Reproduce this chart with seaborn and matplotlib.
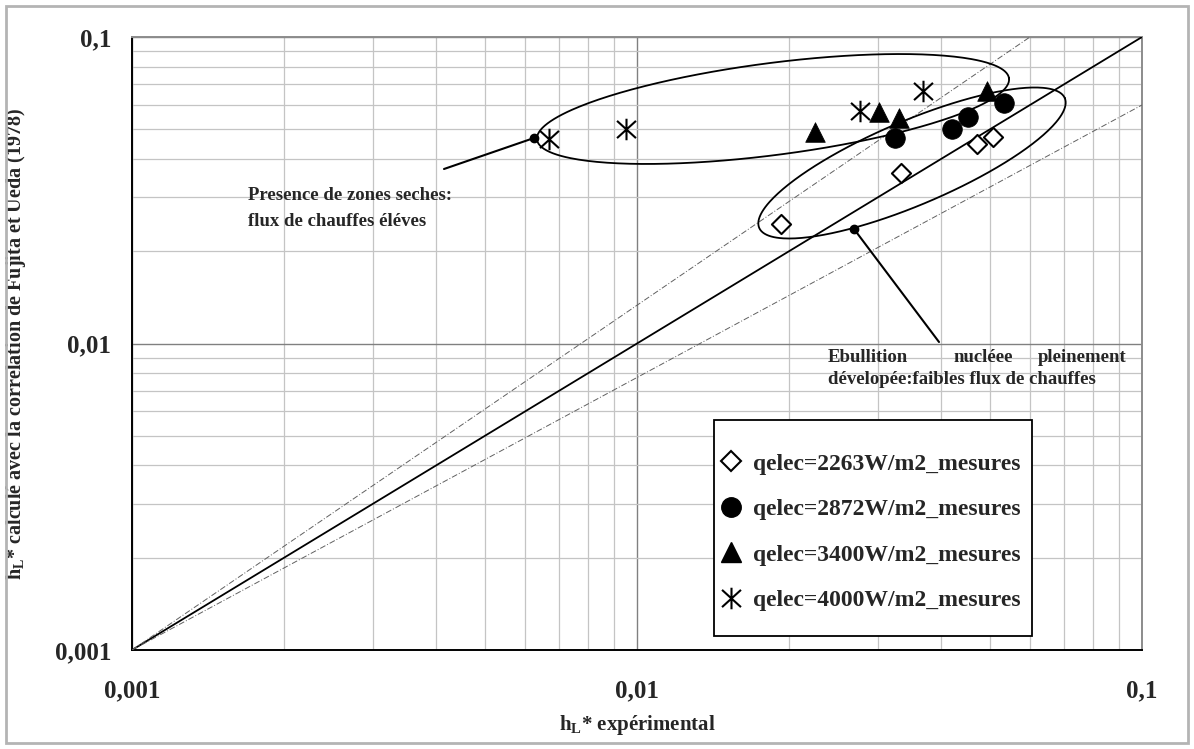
import numpy as np
import seaborn as sns
import matplotlib.pyplot as plt
from matplotlib.path import Path
from matplotlib.lines import Line2D
from matplotlib.patches import Rectangle
import matplotlib.ticker as mticker

x_2263 = [0.0193, 0.0333, 0.0471, 0.0507]
y_2263 = [0.0246, 0.0360, 0.0447, 0.0472]
x_2872 = [0.0324, 0.0421, 0.0452, 0.0532]
y_2872 = [0.0468, 0.0500, 0.0550, 0.0610]
x_3400 = [0.0225, 0.0302, 0.0330, 0.0494]
y_3400 = [0.0488, 0.0569, 0.0545, 0.0666]
x_4000 = [0.0067, 0.0095, 0.0276, 0.0369]
y_4000 = [0.0464, 0.0502, 0.0573, 0.0669]
labels = ["qelec=2263W/m2_mesures", "qelec=2872W/m2_mesures",
          "qelec=3400W/m2_mesures", "qelec=4000W/m2_mesures"]

# droites de reference
ref_x = [0.001, 0.1]
ref_y = [0.001, 0.1]
low_x = [0.001, 0.1]
low_y = [0.001, 0.06]
up_x = [0.001, 0.06]
up_y = [0.001, 0.1]

ticks = [0.001, 0.01, 0.1]
tick_labels = ["0,001", "0,01", "0,1"]

sns.set_style("white")
plt.rcParams['font.family'] = ['Liberation Serif', 'DejaVu Serif']
plt.rcParams['font.weight'] = 'bold'
plt.rcParams['mathtext.fontset'] = 'custom'
plt.rcParams['mathtext.rm'] = 'Liberation Serif:bold'
plt.rcParams['mathtext.bf'] = 'Liberation Serif:bold'

fig = plt.figure(figsize=(11.94, 7.49), dpi=100)
ax = fig.add_axes([132/1194, 99/749, 1010/1194, 613/749])

# cadre exterieur
fig.patches.append(Rectangle((6/1194, 6/749), 1182/1194, 737/749, transform=fig.transFigure,
                             fill=False, edgecolor='#b4b4b4', lw=2))

ax.set_xscale('log')
ax.set_yscale('log')
ax.set_xlim(0.001, 0.1)
ax.set_ylim(0.001, 0.1)

ax.xaxis.set_minor_locator(mticker.LogLocator(base=10, subs=np.arange(2, 10)))
ax.yaxis.set_minor_locator(mticker.LogLocator(base=10, subs=np.arange(2, 10)))
ax.grid(which='minor', color='#c4c4c4', lw=0.9)
ax.grid(which='major', color='#808080', lw=1.0)
ax.set_axisbelow(True)

ax.set_xticks(ticks)
ax.set_xticklabels(tick_labels)
ax.set_yticks(ticks)
ax.set_yticklabels(tick_labels)
ax.xaxis.set_minor_formatter(mticker.NullFormatter())
ax.yaxis.set_minor_formatter(mticker.NullFormatter())
ax.tick_params(which='major', direction='out', length=6, width=1.2, color='black', labelsize=18)
ax.tick_params(axis='x', pad=15)
ax.tick_params(axis='y', pad=9)
ax.tick_params(which='minor', length=0)

for s in ['left', 'bottom']:
    ax.spines[s].set_color('black')
    ax.spines[s].set_linewidth(1.4)
for s in ['top', 'right']:
    ax.spines[s].set_color('#8c8c8c')
    ax.spines[s].set_linewidth(1.4)

# droites
ax.plot(ref_x, ref_y, color='black', lw=1.3, zorder=3)
ax.plot(low_x, low_y, color='#606060', lw=0.7, ls=(0, (6, 2, 1, 2)), zorder=3)
ax.plot(up_x, up_y, color='#606060', lw=0.7, ls=(0, (6, 2, 1, 2)), zorder=3)

star = Path([(0, -1), (0, 1), (-0.88, -0.8), (0.88, 0.8), (-0.88, 0.8), (0.88, -0.8)],
            [Path.MOVETO, Path.LINETO, Path.MOVETO, Path.LINETO, Path.MOVETO, Path.LINETO])

sns.scatterplot(x=x_2263, y=y_2263, marker='D', s=95, facecolor='white', edgecolor='black',
                linewidth=1.5, ax=ax, zorder=5, legend=False)
sns.scatterplot(x=x_2872, y=y_2872, marker='o', s=200, color='black', edgecolor='black',
                linewidth=0.5, ax=ax, zorder=5, legend=False)
sns.scatterplot(x=x_3400, y=y_3400, marker='^', s=200, color='black', edgecolor='black',
                linewidth=0.5, ax=ax, zorder=5, legend=False)
sns.scatterplot(x=x_4000, y=y_4000, marker=star, s=240, color='black', edgecolor='black',
                linewidth=1.5, ax=ax, zorder=5, legend=False)


# ellipses et fleches (positions en pixels de l'image)
def to_ax(px, py):
    return (np.asarray(px) - 132) / 1010, (650 - np.asarray(py)) / 613


def ellipse(cx, cy, a, b, ang):
    t = np.linspace(0, 2 * np.pi, 300)
    th = np.deg2rad(ang)
    px = cx + a * np.cos(t) * np.cos(th) + b * np.sin(t) * np.sin(th)
    py = cy - a * np.cos(t) * np.sin(th) + b * np.sin(t) * np.cos(th)
    fx, fy = to_ax(px, py)
    ax.plot(fx, fy, color='black', lw=1.3, transform=ax.transAxes, zorder=4)


ellipse(773, 109, 238, 46, 7.4)
ellipse(912, 163, 166, 42, 23)

fx, fy = to_ax([444, 534], [169, 138])
ax.plot(fx, fy, color='black', lw=1.5, transform=ax.transAxes, zorder=4)
ax.plot(fx[1], fy[1], 'o', color='black', ms=6, transform=ax.transAxes, zorder=4)
fx, fy = to_ax([939, 854], [342, 229])
ax.plot(fx, fy, color='black', lw=1.5, transform=ax.transAxes, zorder=4)
ax.plot(fx[1], fy[1], 'o', color='black', ms=6, transform=ax.transAxes, zorder=4)

fs_ann = 13.5
x0, y0 = to_ax(248, 200)
ax.text(x0, y0, "Presence de zones seches:", transform=ax.transAxes, fontsize=fs_ann,
        fontweight='bold', ha='left', va='baseline')
x0, y0 = to_ax(248, 226)
ax.text(x0, y0, "flux de chauffes éléves", transform=ax.transAxes, fontsize=fs_ann,
        fontweight='bold', ha='left', va='baseline')
x0, y0 = to_ax(828, 362)
ax.text(x0, y0, "Ebullition", transform=ax.transAxes, fontsize=fs_ann,
        fontweight='bold', ha='left', va='baseline')
x0, y0 = to_ax(983, 362)
ax.text(x0, y0, "nucléee", transform=ax.transAxes, fontsize=fs_ann,
        fontweight='bold', ha='center', va='baseline')
x0, y0 = to_ax(1127, 362)
ax.text(x0, y0, "pleinement", transform=ax.transAxes, fontsize=fs_ann,
        fontweight='bold', ha='right', va='baseline')
x0, y0 = to_ax(828, 384)
ax.text(x0, y0, "dévelopée:faibles flux de chauffes", transform=ax.transAxes, fontsize=fs_ann,
        fontweight='bold', ha='left', va='baseline')

ax.set_xlabel(r"h$_{\mathrm{L}}$* expérimental", fontsize=15, fontweight='bold', labelpad=8)
ax.set_ylabel(r"h$_{\mathrm{L}}$* calculé avec la correlation de Fujita et Ueda (1978)",
              fontsize=14.5, fontweight='bold', labelpad=19)

# legende : cadre dessine a part
lx, ly = to_ax(714, 636)
lx2, ly2 = to_ax(1032, 420)
ax.add_patch(Rectangle((lx, ly), lx2 - lx, ly2 - ly, transform=ax.transAxes,
                       facecolor='white', edgecolor='black', lw=1.3, zorder=6))

handles = [
    Line2D([], [], ls='none', marker='D', ms=9.7, mfc='white', mec='black', mew=1.5),
    Line2D([], [], ls='none', marker='o', ms=14, mfc='black', mec='black'),
    Line2D([], [], ls='none', marker='^', ms=14, mfc='black', mec='black'),
    Line2D([], [], ls='none', marker=star, ms=15.5, mfc='none', mec='black', mew=1.5),
]
ax_x, ax_y = to_ax(722, 453)
leg = ax.legend(handles, labels, loc='upper left', bbox_to_anchor=(ax_x, ax_y),
                prop={'family': 'Liberation Serif', 'weight': 'bold', 'size': 17},
                frameon=False, borderpad=0, labelspacing=1.02,
                handlelength=0.8, handletextpad=0.5, borderaxespad=0)
leg.set_zorder(7)

fig.savefig("out.png", dpi=100)
